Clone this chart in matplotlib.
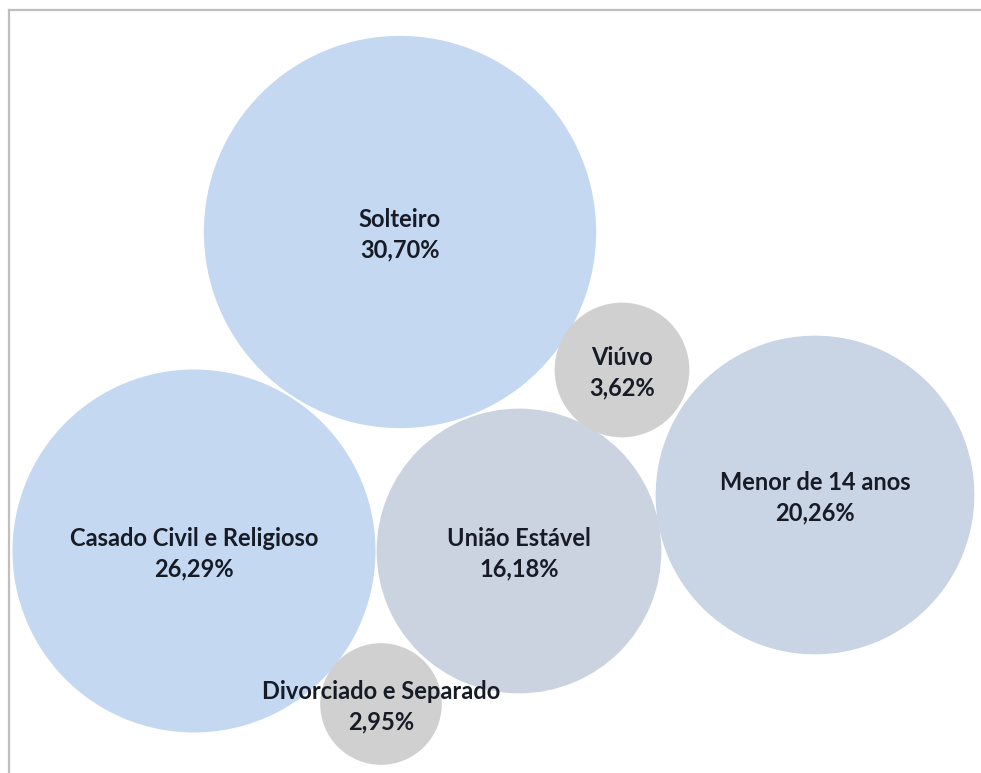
import matplotlib.pyplot as plt
from matplotlib.patches import Circle
from matplotlib.lines import Line2D
import numpy as np

# bubble data
labels = ['Solteiro', 'Casado Civil e Religioso', 'União Estável',
          'Menor de 14 anos', 'Viúvo', 'Divorciado e Separado']
values = [30.70, 26.29, 16.18, 20.26, 3.62, 2.95]
xpos = [400, 194, 519, 815, 622, 381]
ypos = [232, 551, 551, 495, 370, 704]
colors = ['#C5D8F1', '#C5D8F1', '#CCD3E0', '#C9D4E4', '#D0D0D0', '#D0D0D0']

scale = 35.4  # radius per sqrt(percent)

fig = plt.figure(figsize=(9.81, 7.73), dpi=100)
ax = fig.add_axes([0, 0, 1, 1])
ax.set_xlim(0, 981)
ax.set_ylim(773, 0)
ax.set_aspect('equal')
ax.axis('off')

for lab, v, x, y, c in zip(labels, values, xpos, ypos, colors):
    r = scale * np.sqrt(v)
    ax.add_patch(Circle((x, y), r, facecolor=c, edgecolor='none'))
    txt = '%s\n%s%%' % (lab, ('%.2f' % v).replace('.', ','))
    ax.text(x, y + 3, txt, ha='center', va='center', fontsize=17,
            fontweight='bold', family='Lato', color='#161b26',
            linespacing=1.4)

# chart area border (only top/left visible)
fig.add_artist(Line2D([9/981, 1], [1 - 10/773, 1 - 10/773],
                      color='#BFBFBF', lw=1.6, transform=fig.transFigure))
fig.add_artist(Line2D([9/981, 9/981], [0, 1 - 10/773],
                      color='#BFBFBF', lw=1.6, transform=fig.transFigure))

fig.savefig('out.png', dpi=100)
